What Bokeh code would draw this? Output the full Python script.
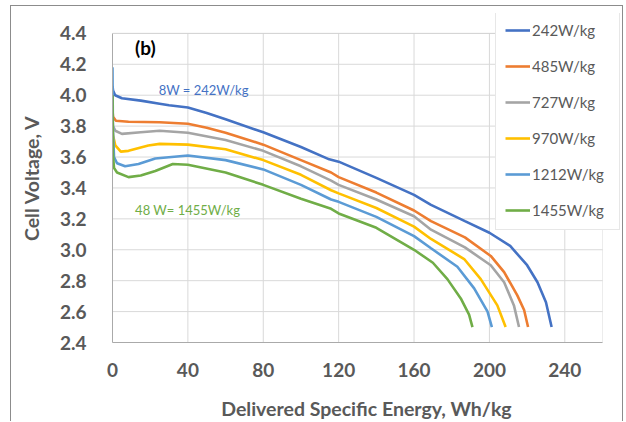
from bokeh.plotting import figure
from bokeh.models import Legend, LegendItem, Label, FixedTicker, Range1d, CustomJSTickFormatter, BoxAnnotation
from bokeh.embed import file_html
from bokeh.resources import INLINE

# ---- data ----
series_names = ["242W/kg", "485W/kg", "727W/kg", "970W/kg", "1212W/kg", "1455W/kg"]
series_colors = ["#4472C4", "#ED7D31", "#A5A5A5", "#FFC000", "#5B9BD5", "#70AD47"]

x_242 = [0, 0.3, 1.4, 5, 15, 25, 30, 40, 50, 60, 80, 100, 115, 120, 140, 160, 169, 187, 200, 211, 220, 225.5, 230, 233]
y_242 = [4.06, 4.03, 4.00, 3.98, 3.965, 3.945, 3.935, 3.92, 3.885, 3.845, 3.76, 3.665, 3.585, 3.57, 3.465, 3.355, 3.29, 3.185, 3.11, 3.025, 2.90, 2.79, 2.66, 2.50]

x_485 = [0, 0.3, 1.8, 8.5, 25, 40, 50, 60, 80, 100, 116, 120, 140, 160, 169, 187, 200.7, 207.8, 214.8, 218.4, 220.5]
y_485 = [3.90, 3.86, 3.835, 3.828, 3.825, 3.815, 3.79, 3.757, 3.68, 3.58, 3.50, 3.47, 3.37, 3.254, 3.185, 3.08, 2.96, 2.855, 2.705, 2.61, 2.50]

x_727 = [0, 0.3, 1.5, 5, 15, 25, 40, 60, 80, 100, 116, 120, 140, 160, 169, 187, 200.7, 207.8, 213, 215.7]
y_727 = [3.85, 3.80, 3.77, 3.75, 3.76, 3.77, 3.757, 3.71, 3.64, 3.54, 3.447, 3.42, 3.325, 3.217, 3.13, 3.015, 2.90, 2.79, 2.64, 2.50]

x_970 = [0, 0.3, 1.5, 4.4, 8.5, 19, 25, 40, 60, 80, 100, 116, 120, 140, 160, 169, 186.6, 195.4, 204.2, 208.6]
y_970 = [3.80, 3.74, 3.675, 3.635, 3.64, 3.675, 3.685, 3.68, 3.65, 3.58, 3.485, 3.385, 3.365, 3.27, 3.15, 3.07, 2.94, 2.81, 2.64, 2.50]

x_1212 = [0, 0.2, 0.8, 2.4, 6.7, 13.8, 22.7, 40, 60, 80, 100, 116, 120, 140, 160, 169, 183, 191.9, 199, 201.3]
y_1212 = [4.18, 3.80, 3.60, 3.56, 3.54, 3.555, 3.59, 3.61, 3.58, 3.52, 3.42, 3.325, 3.31, 3.213, 3.088, 3.01, 2.89, 2.75, 2.60, 2.50]

x_1455 = [0, 0.2, 0.8, 2.4, 8.5, 15, 22.7, 32, 40, 60, 80, 100, 116, 120, 140, 160, 170, 177.7, 184.8, 189.2, 191]
y_1455 = [4.00, 3.62, 3.53, 3.50, 3.47, 3.48, 3.51, 3.555, 3.55, 3.50, 3.42, 3.33, 3.265, 3.235, 3.142, 3.0, 2.916, 2.81, 2.685, 2.58, 2.50]

x_ticks = [0, 40, 80, 120, 160, 200, 240]
y_ticks = [2.4, 2.6, 2.8, 3.0, 3.2, 3.4, 3.6, 3.8, 4.0, 4.2, 4.4]
x_min, x_max = 0, 260
y_min, y_max = 2.4, 4.4

xs = [x_242, x_485, x_727, x_970, x_1212, x_1455]
ys = [y_242, y_485, y_727, y_970, y_1212, y_1455]

FONT = "Lato"
TXT = "#595959"

# layout in pixels: the plot area spans 490 x 311 px; the frame is extended
# up/right so the legend (which overlaps the plot area border) is not clipped.
W, H = 613, 416
BL, BR, BT, BB = 101, 4, 7, 78
area_w, area_h = 490, 311
frame_w = W - BL - BR
frame_h = H - BT - BB
x_end = x_min + (x_max - x_min) * frame_w / area_w
y_end = y_min + (y_max - y_min) * frame_h / area_h

p = figure(width=W, height=H, output_backend="svg", toolbar_location=None,
           x_range=Range1d(x_min, x_end), y_range=Range1d(y_min, y_end),
           min_border_left=BL, min_border_right=BR, min_border_top=BT, min_border_bottom=BB)

p.background_fill_color = "white"
p.border_fill_color = "white"
p.outline_line_color = None
p.grid.visible = False

for ax in (p.xaxis[0], p.yaxis[0]):
    ax.major_tick_line_color = None
    ax.minor_tick_line_color = None
    ax.axis_line_color = "#A6A6A6"
    ax.major_label_text_font = FONT
    ax.major_label_text_font_style = "bold"
    ax.major_label_text_font_size = "19px"
    ax.major_label_text_color = TXT
    ax.axis_label_text_font = FONT
    ax.axis_label_text_font_style = "bold"
    ax.axis_label_text_font_size = "19.5px"
    ax.axis_label_text_color = TXT

p.xaxis.bounds = (x_min, x_max)
p.yaxis.bounds = (y_min, y_max)
p.xaxis.ticker = FixedTicker(ticks=x_ticks)
p.yaxis.ticker = FixedTicker(ticks=y_ticks)
p.yaxis.formatter = CustomJSTickFormatter(code="return tick.toFixed(1);")
p.xaxis.major_label_standoff = 14
p.yaxis.major_label_standoff = 20
p.xaxis.axis_label = "Delivered Specific Energy, Wh/kg"
p.yaxis.axis_label = "Cell Voltage, V"
p.xaxis.axis_label_standoff = 17
p.yaxis.axis_label_standoff = 14

# grid lines within the plot area, from the tick lists
p.segment(x0=x_ticks[1:], y0=[y_min] * (len(x_ticks) - 1), x1=x_ticks[1:], y1=[y_max] * (len(x_ticks) - 1),
          line_color="#D9D9D9", line_width=1)
p.segment(x0=[x_min] * (len(y_ticks) - 1), y0=y_ticks[1:], x1=[x_max] * (len(y_ticks) - 1), y1=y_ticks[1:],
          line_color="#D9D9D9", line_width=1)
p.add_layout(BoxAnnotation(left=x_min, right=x_max, bottom=y_min, top=y_max,
                           fill_alpha=0, line_color="#BFBFBF", line_width=1))

items = []
for name, color, x, y in zip(series_names, series_colors, xs, ys):
    r = p.line(x, y, line_color=color, line_width=2.6)
    items.append(LegendItem(label=name, renderers=[r]))

legend = Legend(items=items, location=(383, 112),
                label_text_font=FONT, label_text_font_size="15px", label_text_color=TXT,
                glyph_width=25, glyph_height=20, label_height=20, label_width=78, label_standoff=2,
                spacing=16, padding=9, border_line_color="#D0D0D0",
                background_fill_color="white", background_fill_alpha=1.0)
p.add_layout(legend, "center")

p.add_layout(Label(x=12, y=4.31, text="(b)", text_font=FONT, text_font_style="bold",
                   text_font_size="19px", text_color="black", text_baseline="middle"))
p.add_layout(Label(x=24.5, y=4.035, text="8W = 242W/kg", text_font=FONT,
                   text_font_size="13px", text_color="#4472C4", text_baseline="middle"))
p.add_layout(Label(x=12, y=3.26, text="48 W= 1455W/kg", text_font=FONT,
                   text_font_size="13px", text_color="#70AD47", text_baseline="middle"))

p.styles = {"margin-left": "10px", "margin-top": "5px",
            "border-left": "1px solid #8C8C8C", "border-top": "1px solid #8C8C8C",
            "border-right": "1px solid #8C8C8C"}

open("out.html", "w").write(file_html(p, INLINE))
